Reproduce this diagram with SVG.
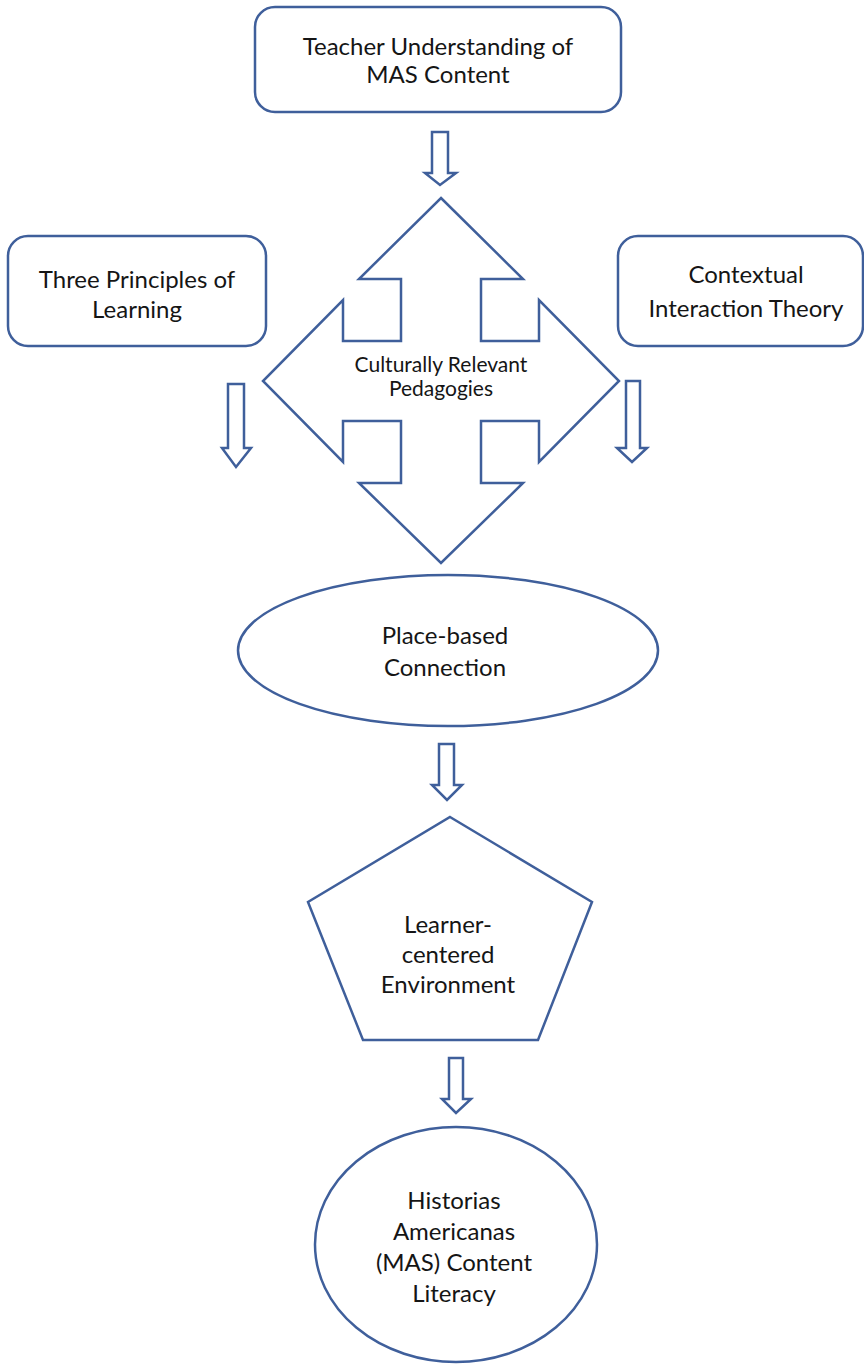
<svg xmlns="http://www.w3.org/2000/svg" width="864" height="1365" viewBox="0 0 864 1365">
<style>
.s{fill:#ffffff;stroke:#3f5f9b;stroke-width:2.5;stroke-linejoin:miter}
.t{font-family:Lato,"Liberation Sans",sans-serif;font-size:24px;fill:#151515;text-anchor:middle}
.ts{font-family:Lato,"Liberation Sans",sans-serif;font-size:21px;fill:#151515;text-anchor:middle}
</style>
<rect width="864" height="1365" fill="#ffffff"/>
<g id="connectors">
<polygon class="s" points="432,132 448,132 448,173 456,173 440,185 425,173 432,173"/>
<polygon class="s" points="228,384 244,384 244,448 251,448 236,467 222,448 228,448"/>
<polygon class="s" points="626,381 640,381 640,448 647,448 632,462 617,448 626,448"/>
<polygon class="s" points="439,744 454,744 454,785 462,785 447,800 432,785 439,785"/>
<polygon class="s" points="449,1058 463,1058 463,1099 471,1099 456,1113 442,1099 449,1099"/>
</g>
<g id="node-teacher">
<rect class="s" x="255" y="7" width="366" height="105" rx="20"/>
<text class="t" x="438" y="55">Teacher Understanding of</text>
<text class="t" x="438" y="83">MAS Content</text>
</g>
<g id="node-three">
<rect class="s" x="8" y="236" width="258" height="110" rx="20"/>
<text class="t" x="137" y="288">Three Principles of</text>
<text class="t" x="137" y="318">Learning</text>
</g>
<g id="node-contextual">
<rect class="s" x="618" y="236" width="245" height="110" rx="20"/>
<text class="t" x="746" y="283">Contextual</text>
<text class="t" x="746" y="317">Interaction Theory</text>
</g>
<g id="node-crp">
<polygon class="s" points="441,198 523,279 481,279 481,341 539,341 539,300 619,381 539,462 539,421 481,421 481,483 523,483 441,563 359,483 401,483 401,421 343,421 343,462 263,381 343,300 343,341 401,341 401,279 359,279"/>
<text class="ts" x="441" y="372">Culturally Relevant</text>
<text class="ts" x="441" y="396">Pedagogies</text>
</g>
<g id="node-place">
<ellipse class="s" cx="448" cy="650.5" rx="210" ry="75.5"/>
<text class="t" x="445" y="644">Place-based</text>
<text class="t" x="445" y="676">Connection</text>
</g>
<g id="node-learner">
<polygon class="s" points="450,817 592,902 538,1040 363,1040 308,902"/>
<text class="t" x="448" y="933">Learner-</text>
<text class="t" x="448" y="963">centered</text>
<text class="t" x="448" y="993">Environment</text>
</g>
<g id="node-historias">
<ellipse class="s" cx="456" cy="1244.5" rx="141" ry="117.5"/>
<text class="t" x="454" y="1209">Historias</text>
<text class="t" x="454" y="1240">Americanas</text>
<text class="t" x="454" y="1271">(MAS) Content</text>
<text class="t" x="454" y="1302">Literacy</text>
</g>
</svg>
